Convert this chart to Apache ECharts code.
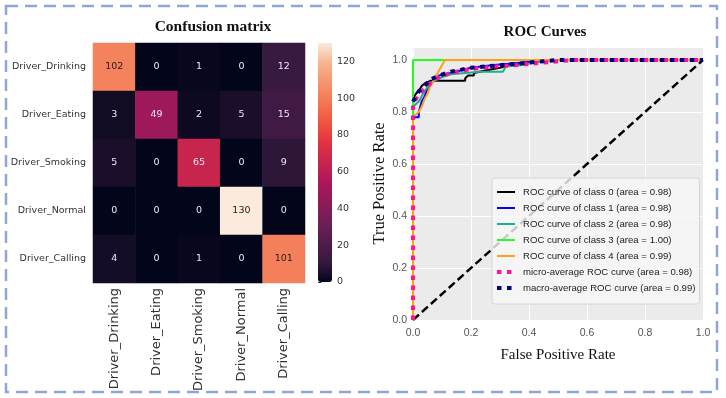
<!DOCTYPE html>
<html>
<head>
<meta charset="utf-8">
<script src="https://cdn.jsdelivr.net/npm/echarts@6/dist/echarts.min.js"></script>
<style>
  html, body { margin: 0; padding: 0; background: #fff; }
  #main { width: 726px; height: 398px; }
</style>
</head>
<body>
<div id="main"></div>
<script>
// 混淆矩阵数据
const categories = ['Driver_Drinking', 'Driver_Eating', 'Driver_Smoking', 'Driver_Normal', 'Driver_Calling'];
const rowDrinking = [102, 0, 1, 0, 12];
const rowEating = [3, 49, 2, 5, 15];
const rowSmoking = [5, 0, 65, 0, 9];
const rowNormal = [0, 0, 0, 130, 0];
const rowCalling = [4, 0, 1, 0, 101];
const matrixRows = [rowDrinking, rowEating, rowSmoking, rowNormal, rowCalling];
const colorMax = 130;

// ROC 曲线数据 [fpr, tpr]
const rocClass0 = [[0, 0], [0, 0.85], [0.01, 0.87], [0.02, 0.88], [0.03, 0.90], [0.04, 0.91], [0.06, 0.92], [0.18, 0.92], [0.18, 0.93], [0.19, 0.94], [0.21, 0.94], [0.21, 0.95], [0.25, 0.96], [0.30, 0.97], [0.33, 0.98], [0.40, 0.99], [0.45, 1.0], [1, 1]];
const rocClass1 = [[0, 0], [0, 0.78], [0.02, 0.78], [0.02, 0.80], [0.03, 0.84], [0.04, 0.86], [0.05, 0.89], [0.07, 0.92], [0.09, 0.94], [0.13, 0.95], [0.20, 0.97], [0.27, 0.98], [0.38, 0.99], [0.45, 1.0], [1, 1]];
const rocClass2 = [[0, 0], [0, 0.82], [0.02, 0.84], [0.04, 0.88], [0.06, 0.91], [0.09, 0.93], [0.13, 0.945], [0.18, 0.95], [0.23, 0.955], [0.31, 0.955], [0.32, 0.975], [0.37, 0.98], [0.42, 0.99], [0.50, 1.0], [1, 1]];
const rocClass3 = [[0, 0], [0, 1.0], [1, 1]];
const rocClass4 = [[0, 0], [0, 0.78], [0.01, 0.79], [0.02, 0.80], [0.03, 0.82], [0.04, 0.85], [0.05, 0.87], [0.06, 0.90], [0.08, 0.94], [0.09, 0.96], [0.10, 0.98], [0.11, 1.0], [1, 1]];
const rocMicro = [[0, 0], [0, 0.83], [0.01, 0.85], [0.02, 0.87], [0.03, 0.88], [0.05, 0.90], [0.07, 0.92], [0.10, 0.94], [0.15, 0.955], [0.20, 0.965], [0.28, 0.975], [0.35, 0.98], [0.45, 0.99], [0.55, 1.0], [1, 1]];
const rocMacro = [[0, 0.84], [0.01, 0.86], [0.02, 0.88], [0.04, 0.90], [0.06, 0.925], [0.09, 0.94], [0.13, 0.955], [0.20, 0.97], [0.30, 0.98], [0.40, 0.99], [0.45, 0.995], [0.50, 1.0], [1, 1]];
const chanceLine = [[0, 0], [1, 1]];
const rocNames = [
    'ROC curve of class 0 (area = 0.98)',
    'ROC curve of class 1 (area = 0.98)',
    'ROC curve of class 2 (area = 0.98)',
    'ROC curve of class 3 (area = 1.00)',
    'ROC curve of class 4 (area = 0.99)',
    'micro-average ROC curve (area = 0.98)',
    'macro-average ROC curve (area = 0.99)'
];

const serif = '"Liberation Serif", "DejaVu Serif", serif';
const sans = '"Liberation Sans", Arial, sans-serif';
const dotted = [4.5, 5.5];

// 热力图数据 [x, y, value]
function buildHeatData() {
    const data = [];
    matrixRows.forEach(function(row, y) {
        row.forEach(function(v, x) {
            data.push({
                value: [x, y, v],
                label: { color: v > 90 ? '#2a1a14' : '#ece8f6' }
            });
        });
    });
    return data;
}

function rocLine(name, data, color, width, type) {
    return {
        name: name,
        type: 'line',
        xAxisIndex: 1,
        yAxisIndex: 1,
        data: data,
        symbol: 'none',
        lineStyle: { color: color, width: width, type: type || 'solid', cap: 'butt' },
        itemStyle: { color: color }
    };
}

// 图例项：平均曲线用粗点线
function legendItems() {
    return rocNames.map(function(name, i) {
        if (i >= 5) {
            return { name: name, lineStyle: { width: 4, type: dotted, cap: 'butt' } };
        }
        return { name: name };
    });
}

const chart = echarts.init(document.getElementById('main'));

const option = {
    animation: false,
    title: [
        {
            text: 'Confusion matrix', left: 213, top: 19, textAlign: 'center', padding: 0,
            textStyle: { fontFamily: serif, fontWeight: 'bold', fontSize: 15.5, color: '#111' }
        },
        {
            text: 'ROC Curves', left: 545, top: 25, textAlign: 'center', padding: 0,
            textStyle: { fontFamily: serif, fontWeight: 'bold', fontSize: 15, color: '#111' }
        }
    ],
    graphic: [
        {
            type: 'rect',
            shape: { x: 6, y: 6, width: 711, height: 386 },
            style: { fill: 'none', stroke: '#8ea6d8', lineWidth: 2.5, lineDash: [12, 7] },
            silent: true
        }
    ],
    grid: [
        { left: 93, top: 43, width: 212, height: 240 },
        { left: 413, top: 47, width: 290, height: 273, show: true, backgroundColor: '#ebebeb', borderWidth: 0 },
        { left: 318, top: 43, width: 14, height: 239 }
    ],
    xAxis: [
        {
            gridIndex: 0, type: 'category', data: categories,
            axisLine: { show: false }, axisTick: { show: false },
            axisLabel: { rotate: 90, margin: 5, fontSize: 13, color: '#333', fontFamily: 'DejaVu Sans' }
        },
        {
            gridIndex: 1, type: 'value', min: 0, max: 1, interval: 0.2,
            name: 'False Positive Rate', nameLocation: 'middle', nameGap: 28,
            nameTextStyle: { fontFamily: serif, fontSize: 15, color: '#111' },
            axisLine: { show: false }, axisTick: { show: false },
            axisLabel: { margin: 8, fontSize: 10.5, color: '#555', fontFamily: sans, formatter: function(v) { return v.toFixed(1); } },
            splitLine: { lineStyle: { color: '#fff', width: 1 } }
        },
        { gridIndex: 2, type: 'value', show: false, min: 0, max: 1 }
    ],
    yAxis: [
        {
            gridIndex: 0, type: 'category', data: categories, inverse: true,
            axisLine: { show: false }, axisTick: { show: false },
            axisLabel: { margin: 7, fontSize: 9.5, color: '#333', fontFamily: 'DejaVu Sans' }
        },
        {
            gridIndex: 1, type: 'value', min: 0, max: 1.05, interval: 0.2,
            name: 'True Positive Rate', nameLocation: 'middle', nameGap: 22,
            nameTextStyle: { fontFamily: serif, fontSize: 16.5, color: '#111' },
            axisLine: { show: false }, axisTick: { show: false },
            axisLabel: { margin: 6, fontSize: 10.5, color: '#555', fontFamily: sans, showMaxLabel: false, formatter: function(v) { return v.toFixed(1); } },
            splitLine: { lineStyle: { color: '#fff', width: 1 } }
        },
        {
            gridIndex: 2, type: 'value', position: 'right', min: 0, max: colorMax, interval: 20,
            axisLine: { show: false },
            axisTick: { show: true, length: 3.5, lineStyle: { color: '#333' } },
            axisLabel: { margin: 5, fontSize: 9.5, color: '#333', fontFamily: 'DejaVu Sans', showMaxLabel: false },
            splitLine: { show: false }
        }
    ],
    visualMap: {
        type: 'continuous', min: 0, max: colorMax, seriesIndex: 0,
        calculable: false, realtime: false,
        left: 318, top: 43, itemWidth: 14, itemHeight: 239, padding: 0,
        text: null, showLabel: false,
        inRange: {
            color: ['#03051a', '#35193e', '#511c4a', '#701f57', '#8e1b58', '#ad1759', '#c7254e',
                    '#e13342', '#ef5440', '#f37651', '#f5956f', '#f6b48f', '#faebdd']
        }
    },
    legend: {
        data: legendItems(),
        orient: 'vertical',
        left: 492, top: 178,
        padding: [9, 4, 11, 3],
        itemWidth: 18, itemHeight: 12, itemGap: 6,
        itemStyle: { opacity: 0 },
        backgroundColor: 'rgba(247,247,247,0.82)',
        borderColor: '#d6d6d6', borderWidth: 1, borderRadius: 3,
        textStyle: { fontFamily: sans, fontSize: 9.6, color: '#222', padding: [0, 0, 0, 3] }
    },
    series: [
        {
            type: 'heatmap',
            xAxisIndex: 0, yAxisIndex: 0,
            data: buildHeatData(),
            label: { show: true, fontSize: 9.5, fontFamily: 'DejaVu Sans', formatter: function(p) { return p.value[2]; } },
            itemStyle: { borderWidth: 0 },
            emphasis: { disabled: true }
        },
        {
            type: 'line', xAxisIndex: 1, yAxisIndex: 1, data: chanceLine, symbol: 'none',
            lineStyle: { color: '#000', width: 2.5, type: [8, 4] }, silent: true
        },
        rocLine(rocNames[0], rocClass0, '#000000', 2),
        rocLine(rocNames[1], rocClass1, '#0000ff', 2),
        rocLine(rocNames[2], rocClass2, '#1fae90', 2),
        rocLine(rocNames[3], rocClass3, '#22ff22', 2),
        rocLine(rocNames[4], rocClass4, '#ff9f1a', 2),
        rocLine(rocNames[5], rocMicro, '#ff1493', 4, dotted),
        rocLine(rocNames[6], rocMacro, '#000080', 4, dotted)
    ]
};

chart.setOption(option);
</script>
</body>
</html>
